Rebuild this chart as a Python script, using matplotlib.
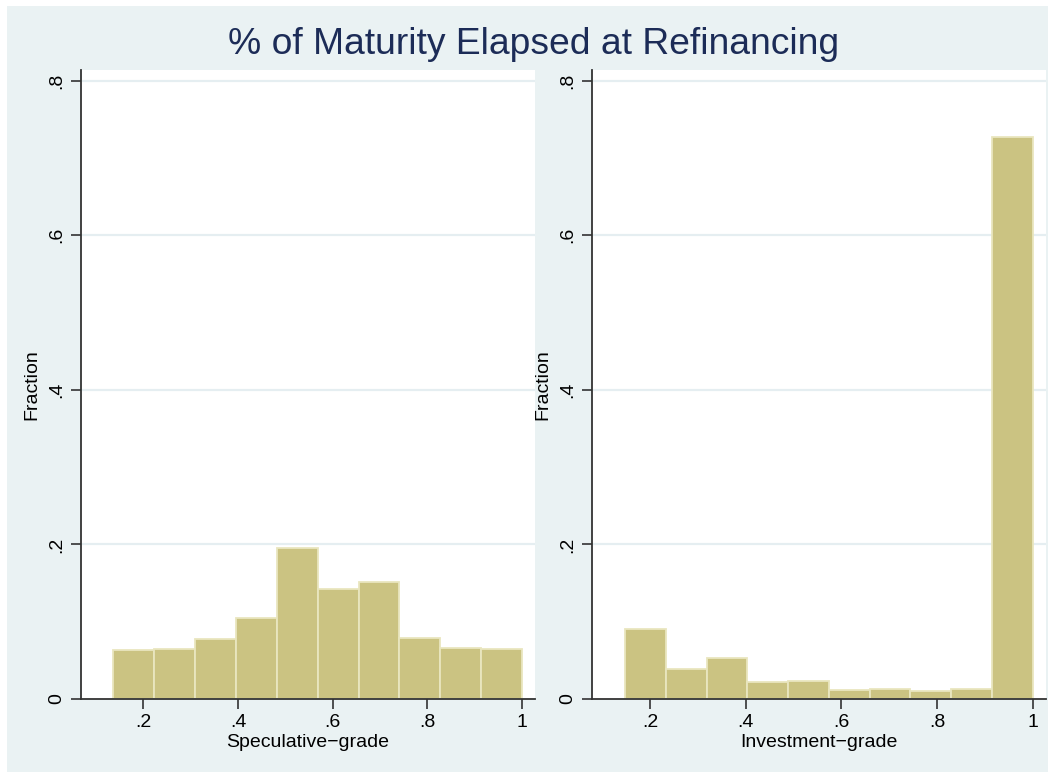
import matplotlib
matplotlib.use("Agg")
import matplotlib.pyplot as plt
from matplotlib.patches import Rectangle
import numpy as np

plt.rcParams['font.family'] = ['Liberation Sans', 'DejaVu Sans']

# Histogram data: share of loans by fraction of maturity elapsed at refinancing
spec_range = [0.137, 1.0]          # lowest / highest bin edge
spec_fraction = [0.0628, 0.0645, 0.0775, 0.1043, 0.1948,
                 0.1420, 0.1515, 0.0792, 0.0658, 0.0645]

inv_range = [0.148, 1.0]
inv_fraction = [0.0902, 0.0384, 0.0526, 0.0224, 0.0237,
                0.0121, 0.0129, 0.0104, 0.0129, 0.7275]

panel_labels = ["Speculative\u2212grade", "Investment\u2212grade"]
x_ticks = [0.2, 0.4, 0.6, 0.8, 1.0]
x_ticklabels = [".2", ".4", ".6", ".8", "1"]
y_ticks = [0.0, 0.2, 0.4, 0.6, 0.8]
y_ticklabels = ["0", ".2", ".4", ".6", ".8"]
title = "% of Maturity Elapsed at Refinancing"

W, H = 1049, 772
BG = "#EAF2F3"
GRID = "#E5EEF1"
BAR = "#CBC382"
BAR_EDGE = "#E9E6BF"
AXIS = "#333333"

fig = plt.figure(figsize=(W / 100, H / 100), dpi=100, facecolor="white")
fig.patches.append(Rectangle((7 / W, 0), 1 - 8 / W, 1 - 6 / H,
                             transform=fig.transFigure, facecolor=BG,
                             edgecolor="none", zorder=-10))


def px_axes(left, right, top, bottom):
    return fig.add_axes([left / W, 1 - bottom / H, (right - left) / W, (bottom - top) / H])


panels = [
    (px_axes(81, 535, 70, 699), spec_range, spec_fraction, (0.0684, 1.0275)),
    (px_axes(592, 1046, 70, 699), inv_range, inv_fraction, (0.0788, 1.028)),
]

for (ax, rng, frac, xlim), label in zip(panels, panel_labels):
    edges = np.linspace(rng[0], rng[1], len(frac) + 1)
    ax.set_facecolor("white")
    ax.bar(edges[:-1], frac, width=np.diff(edges), align="edge",
           color=BAR, edgecolor=BAR_EDGE, linewidth=1.3, zorder=3)
    ax.set_xlim(*xlim)
    ax.set_ylim(0, 0.814)
    for yv in y_ticks[1:]:
        ax.axhline(yv, color=GRID, linewidth=1.6, zorder=1)
    for s in ["top", "right"]:
        ax.spines[s].set_visible(False)
    for s in ["left", "bottom"]:
        ax.spines[s].set_color(AXIS)
        ax.spines[s].set_linewidth(1.3)
        ax.spines[s].set_zorder(4)
    ax.set_xticks(x_ticks)
    ax.set_xticklabels(x_ticklabels)
    ax.set_yticks(y_ticks)
    ax.set_yticklabels(y_ticklabels, rotation=90, va="center")
    ax.tick_params(axis="both", direction="out", length=7, width=1.2,
                   color=AXIS, labelsize=14, labelcolor="black", pad=4)
    ax.set_xlabel(label, fontsize=14, color="black", labelpad=2)
    ax.set_ylabel("Fraction", fontsize=14, color="black", labelpad=6)

fig.text(534 / W, 1 - 44 / H, title, ha="center", va="center",
         fontsize=26.8, color="#1C2C57")

fig.savefig("out.png", dpi=100, facecolor=fig.get_facecolor())
